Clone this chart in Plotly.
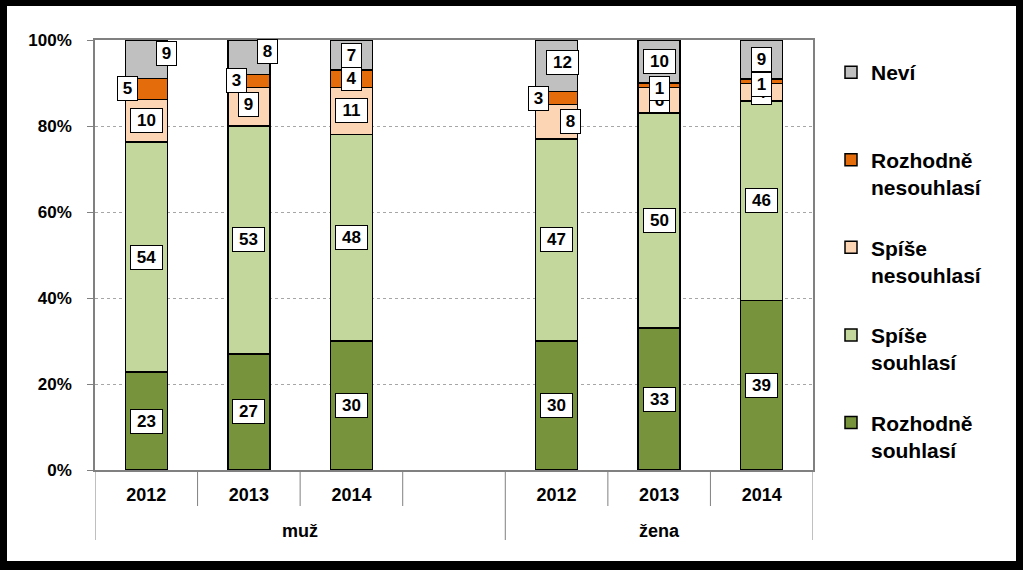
import plotly.graph_objects as go

# ---------------- data ----------------
groups = ["muž", "muž", "muž", "muž", "žena", "žena", "žena"]
years = ["2012", "2013", "2014", "", "2012", "2013", "2014"]

series_names = ["Rozhodně<br>souhlasí", "Spíše<br>souhlasí", "Spíše<br>nesouhlasí",
                "Rozhodně<br>nesouhlasí", "Neví<br> "]
rozhodne_souhlasi = [23, 27, 30, None, 30, 33, 39]
spise_souhlasi = [54, 53, 48, None, 47, 50, 46]
spise_nesouhlasi = [10, 9, 11, None, 8, 6, 4]
rozhodne_nesouhlasi = [5, 3, 4, None, 3, 1, 1]
nevi = [9, 8, 7, None, 12, 10, 9]

series_values = [rozhodne_souhlasi, spise_souhlasi, spise_nesouhlasi,
                 rozhodne_nesouhlasi, nevi]
series_colors = ["#77933C", "#C3D69B", "#FCD5B5", "#E46C0A", "#C0C0C0"]

# manual nudges of some data labels (pixels): (series index, category index) -> (dx, dy)
label_nudge = {
    (4, 0): (20, 6), (3, 0): (-19, 0),
    (4, 1): (19, 6), (3, 1): (-12, 0), (2, 1): (0, 2),
    (4, 4): (6, 3), (3, 4): (-18, 0), (2, 4): (14, 0),
    (3, 5): (0, -3),
    (3, 6): (0, -3),
}

FONT = "Liberation Sans, Arial, sans-serif"
W, H = 1023, 570
ML, MR, MT, MB = 95, 210, 40, 100
PW, PH = W - ML - MR, H - MT - MB

cats = [f"{g}|{y}" for g, y in zip(groups, years)]

fig = go.Figure()
n_series = len(series_names)
for k, (name, vals, col) in enumerate(zip(series_names, series_values, series_colors)):
    fig.add_trace(go.Bar(
        x=cats, y=vals, name=name, legendgroup=name,
        legendrank=n_series - k,
        marker=dict(color=col, line=dict(color="black", width=1.5)),
        hoverinfo="skip",
    ))

# data labels
totals = [sum(s[i] for s in series_values) if series_values[0][i] is not None else None
          for i in range(len(cats))]
annotations = []
for i, cat in enumerate(cats):
    if totals[i] is None:
        continue
    base = 0.0
    for k, vals in enumerate(series_values):
        v = vals[i]
        pct = v / totals[i] * 100
        mid = base + pct / 2
        base += pct
        dx, dy = label_nudge.get((k, i), (0, 0))
        txt = str(v)
        annotations.append(dict(
            x=cat, y=mid, xref="x", yref="y", text=f"<b>{txt}</b>",
            showarrow=False, xshift=dx, yshift=dy,
            font=dict(family=FONT, size=17, color="black"),
            bgcolor="white", bordercolor="black", borderwidth=1, borderpad=2,
            width=3 + 12 * len(txt),
        ))

# group labels
group_names = []
for g in groups:
    if g not in group_names:
        group_names.append(g)
for g in group_names:
    idx = [i for i, gg in enumerate(groups) if gg == g]
    annotations.append(dict(
        x=(idx[0] + idx[-1]) / 2, y=-61 / PH, xref="x", yref="paper",
        yanchor="middle",
        text=f"<b>{g}</b>", showarrow=False,
        font=dict(family=FONT, size=18, color="black"),
    ))

# divider lines under the axis
shapes = []
for b in range(len(cats) + 1):
    xb = b - 0.5
    is_group_edge = (b == 0 or b == len(cats) or groups[b] != groups[b - 1])
    shapes.append(dict(
        type="line", xref="x", yref="paper", x0=xb, x1=xb,
        y0=0, y1=(-70 if is_group_edge else -36) / PH,
        line=dict(color="#808080", width=1),
    ))

# black frame around the picture
def px2x(p):
    return (p - ML) / PW

def py2y(p):
    return (H - MB - p) / PH

for (x0, y0, x1, y1) in [(0, 0, 7, H), (W - 7, 0, W, H), (0, 0, W, 6), (0, H - 9, W, H)]:
    shapes.append(dict(
        type="rect", xref="paper", yref="paper",
        x0=px2x(x0), x1=px2x(x1), y0=py2y(y1), y1=py2y(y0),
        fillcolor="black", line=dict(width=0), layer="above",
    ))

fig.update_layout(
    width=W, height=H,
    margin=dict(l=ML, r=MR, t=MT, b=MB),
    paper_bgcolor="white", plot_bgcolor="white",
    barmode="stack", barnorm="percent", bargap=0.59,
    font=dict(family=FONT, color="black"),
    showlegend=True,
    legend=dict(
        x=px2x(831), xanchor="left", y=py2y(52), yanchor="top",
        traceorder="grouped", tracegroupgap=30, valign="top",
        itemwidth=30,
        font=dict(family=FONT, size=21, color="black", weight="bold"),
        bgcolor="rgba(0,0,0,0)",
    ),
    annotations=annotations,
    shapes=shapes,
)

fig.update_xaxes(
    type="category", categoryorder="array", categoryarray=cats,
    range=[-0.5, len(cats) - 0.5],
    tickmode="array", tickvals=cats, ticktext=[f"<b>{y}</b>" for y in years],
    tickfont=dict(family=FONT, size=18, color="black"),
    ticks="", ticklabelstandoff=8,
    showline=True, linecolor="#808080", linewidth=1.5, mirror=True,
    showgrid=False, zeroline=False,
)
fig.update_yaxes(
    range=[0, 100], dtick=20, ticksuffix="%",
    tickfont=dict(family=FONT, size=17, color="black", weight="bold"),
    ticks="outside", ticklen=6, tickcolor="#808080", ticklabelstandoff=12,
    showline=True, linecolor="#808080", linewidth=1.5, mirror=True,
    showgrid=True, gridcolor="#A6A6A6", griddash="dot", gridwidth=1,
    zeroline=False,
)

fig.write_html(
    "out.html",
    config={"displayModeBar": False},
    post_script="document.body.style.margin='0';document.body.style.padding='0';",
)
